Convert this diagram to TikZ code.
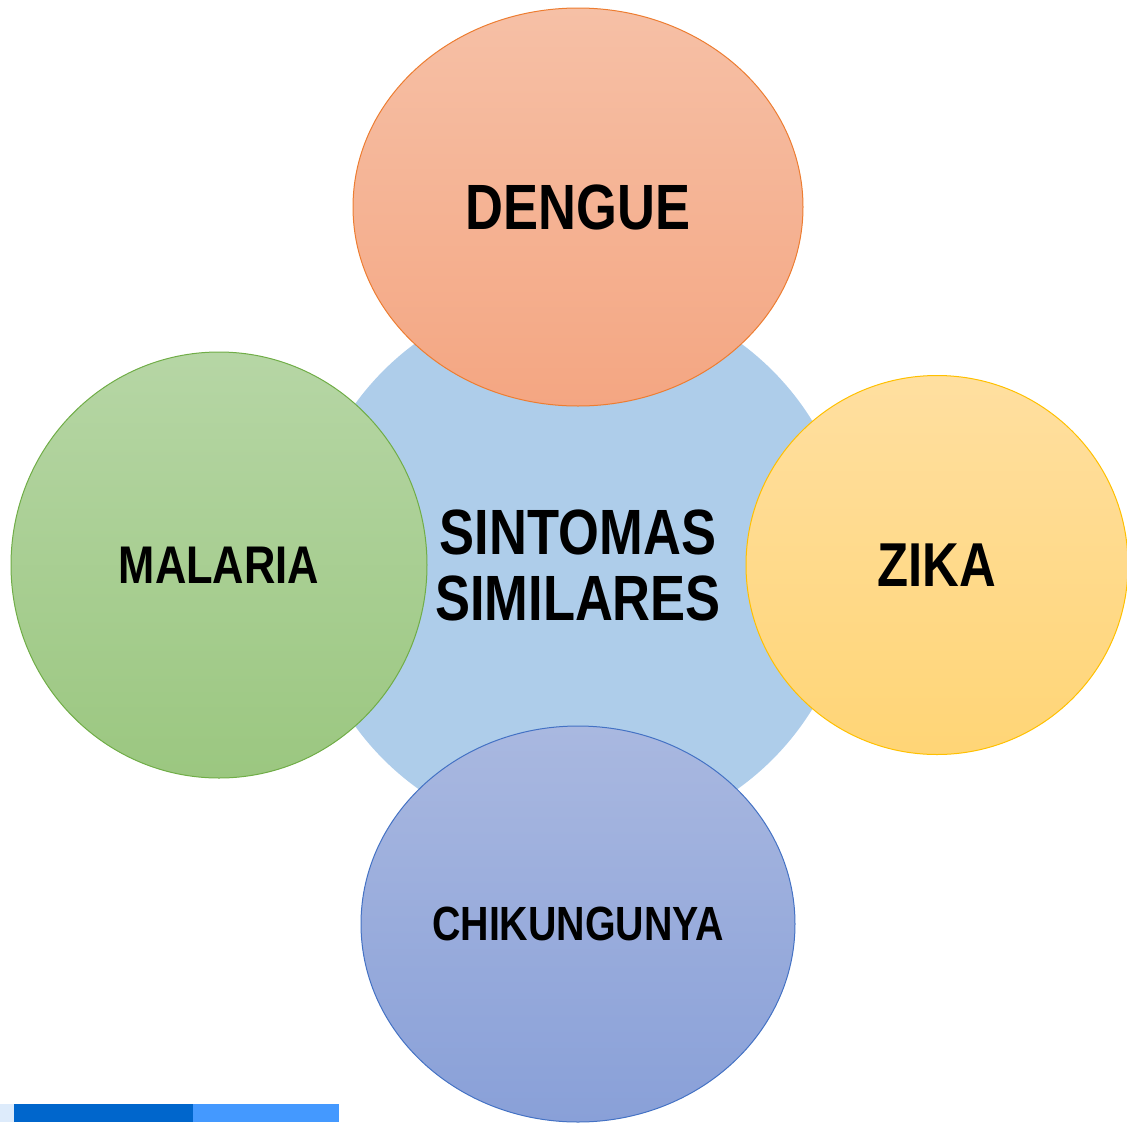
\documentclass[tikz,border=0pt]{standalone}
\usepackage{fontspec}
\usetikzlibrary{shapes.geometric}
\newfontfamily\narrowsans{Liberation Sans Bold}[FakeStretch=0.82]
\definecolor{hubfill}{RGB}{174,205,234}
\definecolor{dengtop}{RGB}{246,192,166}
\definecolor{dengbot}{RGB}{244,166,130}
\definecolor{denglin}{RGB}{237,125,49}
\definecolor{maltop}{RGB}{182,214,165}
\definecolor{malbot}{RGB}{155,199,128}
\definecolor{mallin}{RGB}{112,173,71}
\definecolor{zikatop}{RGB}{255,223,160}
\definecolor{zikabot}{RGB}{255,213,118}
\definecolor{zikalin}{RGB}{255,192,0}
\definecolor{chiktop}{RGB}{169,184,224}
\definecolor{chikbot}{RGB}{137,160,216}
\definecolor{chiklin}{RGB}{68,114,196}
\definecolor{bardark}{RGB}{0,102,204}
\definecolor{barlight}{RGB}{68,153,255}
\definecolor{barpale}{RGB}{221,235,251}
\tikzset{
  blob/.style={ellipse,inner sep=0pt,line width=1pt,align=center},
  label size/.style={font=\narrowsans\fontsize{#1}{66}\selectfont}
}
\begin{document}
\begin{tikzpicture}[x=1pt,y=-1pt]
      \useasboundingbox (0,0) rectangle (1127,1122);
      \draw
        (578,565) node[blob,fill=hubfill,minimum width=550,minimum height=550,label size=64] (sint){SINTOMAS\\SIMILARES}
        (578,207) node[blob,draw=denglin,top color=dengtop,bottom color=dengbot,minimum width=450,minimum height=398,label size=64] (dengue){DENGUE}
        (219,565) node[blob,draw=mallin,top color=maltop,bottom color=malbot,minimum width=416,minimum height=426,label size=53] (malaria){MALARIA}
        (937,565) node[blob,draw=zikalin,top color=zikatop,bottom color=zikabot,minimum width=382,minimum height=379,label size=62] (zika){ZIKA}
        (578,924) node[blob,draw=chiklin,top color=chiktop,bottom color=chikbot,minimum width=434,minimum height=396,label size=48] (chik){CHIKUNGUNYA};
      % barra inferior
      \fill[barpale] (0,1104) rectangle (14,1122);
      \fill[bardark] (14,1104) rectangle (193,1122);
      \fill[barlight] (193,1104) rectangle (339,1122);
    \end{tikzpicture}
\end{document}
